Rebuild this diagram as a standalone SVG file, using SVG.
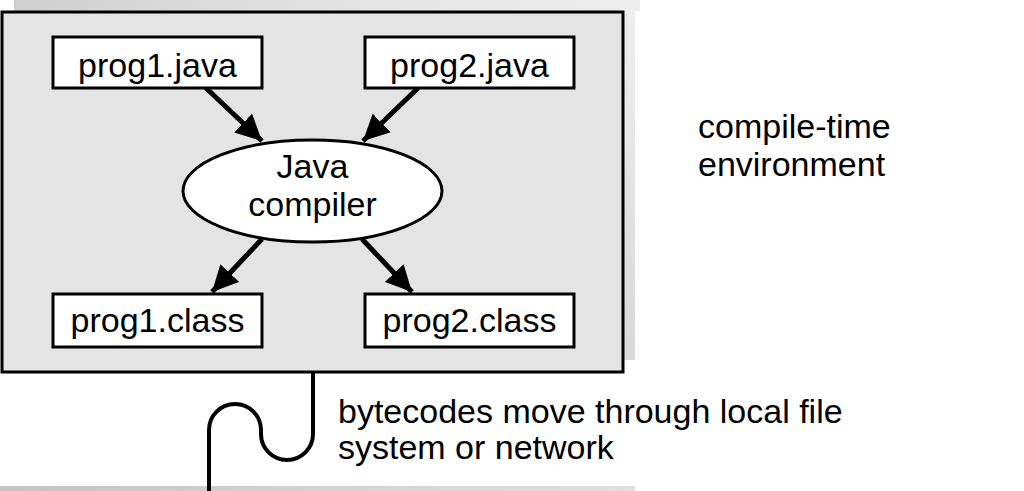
<svg xmlns="http://www.w3.org/2000/svg" width="1024" height="491" viewBox="0 0 1024 491">
<defs>
<linearGradient id="gTop" x1="0" y1="0" x2="1" y2="0">
<stop offset="0" stop-color="#cfcfcf"/><stop offset="0.5" stop-color="#e2e2e2"/><stop offset="1" stop-color="#eeeeee"/>
</linearGradient>
<linearGradient id="gBot" x1="0" y1="0" x2="1" y2="0">
<stop offset="0" stop-color="#c4c4c4"/><stop offset="1" stop-color="#e0e0e0"/>
</linearGradient>
<linearGradient id="gSide" x1="0" y1="0" x2="0" y2="1">
<stop offset="0" stop-color="#eeeeee"/><stop offset="1" stop-color="#d8d8d8"/>
</linearGradient>
<marker id="ah" viewBox="0 0 26 26" refX="26" refY="13" markerWidth="26" markerHeight="26" markerUnits="userSpaceOnUse" orient="auto">
<path d="M0,0 L26,13 L0,26 Z" fill="#000"/>
</marker>
<style>
.box{fill:#fff;stroke:#000;stroke-width:3}
.t{font-family:"Liberation Sans",Arial,sans-serif;font-size:34px;fill:#000}
.m{text-anchor:middle}
.arr{stroke:#000;stroke-width:5;fill:none;marker-end:url(#ah)}
</style>
</defs>
<rect x="14" y="0" width="626" height="11" fill="url(#gTop)"/>
<rect x="624" y="10" width="11" height="350" fill="url(#gSide)"/>
<rect x="0" y="486" width="635" height="5" fill="url(#gBot)"/>
<g id="env">
<rect x="2" y="12" width="621" height="360" fill="#e4e4e4" stroke="#000" stroke-width="3"/>
</g>
<g id="connectors">
<line class="arr" x1="206" y1="88" x2="262" y2="141"/>
<line class="arr" x1="418" y1="88" x2="363" y2="141"/>
<line class="arr" x1="262" y1="239" x2="212" y2="292"/>
<line class="arr" x1="362" y1="239" x2="412" y2="292"/>
<path d="M313,372 V434 A26,26 0 0 1 261,434 V430 A26,26 0 0 0 209,430 V491" fill="none" stroke="#000" stroke-width="4"/>
</g>
<g id="prog1java">
<rect class="box" x="53" y="37" width="209" height="51"/>
<text class="t m" x="157.5" y="77">prog1.java</text>
</g>
<g id="prog2java">
<rect class="box" x="365" y="37" width="209" height="51"/>
<text class="t m" x="469.5" y="77">prog2.java</text>
</g>
<g id="compiler">
<ellipse cx="312.5" cy="191" rx="129.5" ry="51" fill="#fff" stroke="#000" stroke-width="3"/>
<text class="t m" x="312.5" y="178">Java</text>
<text class="t m" x="312.5" y="216">compiler</text>
</g>
<g id="prog1class">
<rect class="box" x="53" y="294" width="209" height="53"/>
<text class="t m" x="157.5" y="332">prog1.class</text>
</g>
<g id="prog2class">
<rect class="box" x="365" y="294" width="209" height="53"/>
<text class="t m" x="469.5" y="332">prog2.class</text>
</g>
<g id="label-compile">
<text class="t" x="698" y="138">compile-time</text>
<text class="t" x="698" y="176">environment</text>
</g>
<g id="label-bytecodes">
<text class="t" x="338" y="423">bytecodes move through local file</text>
<text class="t" x="338" y="459">system or network</text>
</g>
</svg>
